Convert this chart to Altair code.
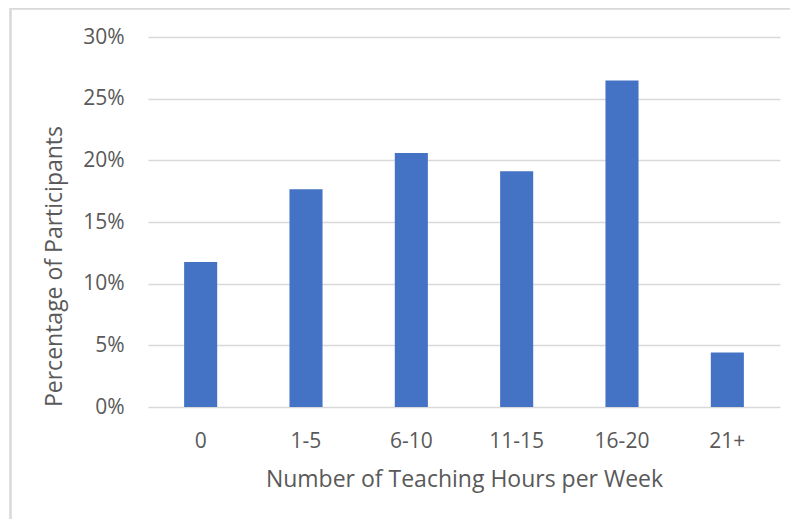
import altair as alt
import pandas as pd

categories = ["0", "1-5", "6-10", "11-15", "16-20", "21+"]
percentages = [0.1176, 0.1765, 0.2059, 0.1912, 0.2647, 0.0441]

df = pd.DataFrame({"hours": categories, "pct": percentages})

FONT = "Open Sans"
TXT = "#595959"
GRID = "#D9D9D9"

bars = alt.Chart(df).mark_bar(color="#4472C4").encode(
    x=alt.X(
        "hours:N",
        sort=categories,
        scale=alt.Scale(paddingInner=0.686, paddingOuter=0.343),
        axis=alt.Axis(
            title="Number of Teaching Hours per Week",
            labelAngle=0,
            labelFont=FONT,
            labelFontSize=21,
            labelColor=TXT,
            labelBaseline="alphabetic",
            labelPadding=40,
            ticks=False,
            tickSize=0,
            domain=False,
            titleFont=FONT,
            titleFontSize=23,
            titleFontWeight="normal",
            titleColor=TXT,
            titleBaseline="alphabetic",
            titleY=79,
        ),
    ),
    y=alt.Y(
        "pct:Q",
        scale=alt.Scale(domain=[0, 0.3], nice=False),
        axis=alt.Axis(
            title="Percentage of Participants",
            format=".0%",
            values=[0, 0.05, 0.10, 0.15, 0.20, 0.25, 0.30],
            labelFont=FONT,
            labelFontSize=21,
            labelColor=TXT,
            labelPadding=24,
            ticks=False,
            tickSize=0,
            domain=False,
            grid=True,
            gridColor=GRID,
            gridWidth=1.5,
            titleFont=FONT,
            titleFontSize=23,
            titleFontWeight="normal",
            titleColor=TXT,
            titleBaseline="middle",
            titleAlign="center",
            titleX=-94,
            titleY=229,
        ),
    ),
)

border_left = alt.Chart(df).mark_rule(color=GRID, strokeWidth=1.5, clip=False).encode(
    x=alt.value(-137.5), y=alt.value(-29), y2=alt.value(500)
)
border_top = alt.Chart(df).mark_rule(color=GRID, strokeWidth=1.5, clip=False).encode(
    x=alt.value(-138), x2=alt.value(650), y=alt.value(-28.5)
)

chart = alt.layer(bars, border_left, border_top).properties(
    width=632,
    height=370,
    autosize=alt.AutoSizeParams(type="none"),
    padding={"left": 140, "top": 29, "right": 10, "bottom": 112},
    background="white",
).configure_view(stroke=None)

chart.save("out.html", embed_options={"renderer": "svg", "actions": False})
